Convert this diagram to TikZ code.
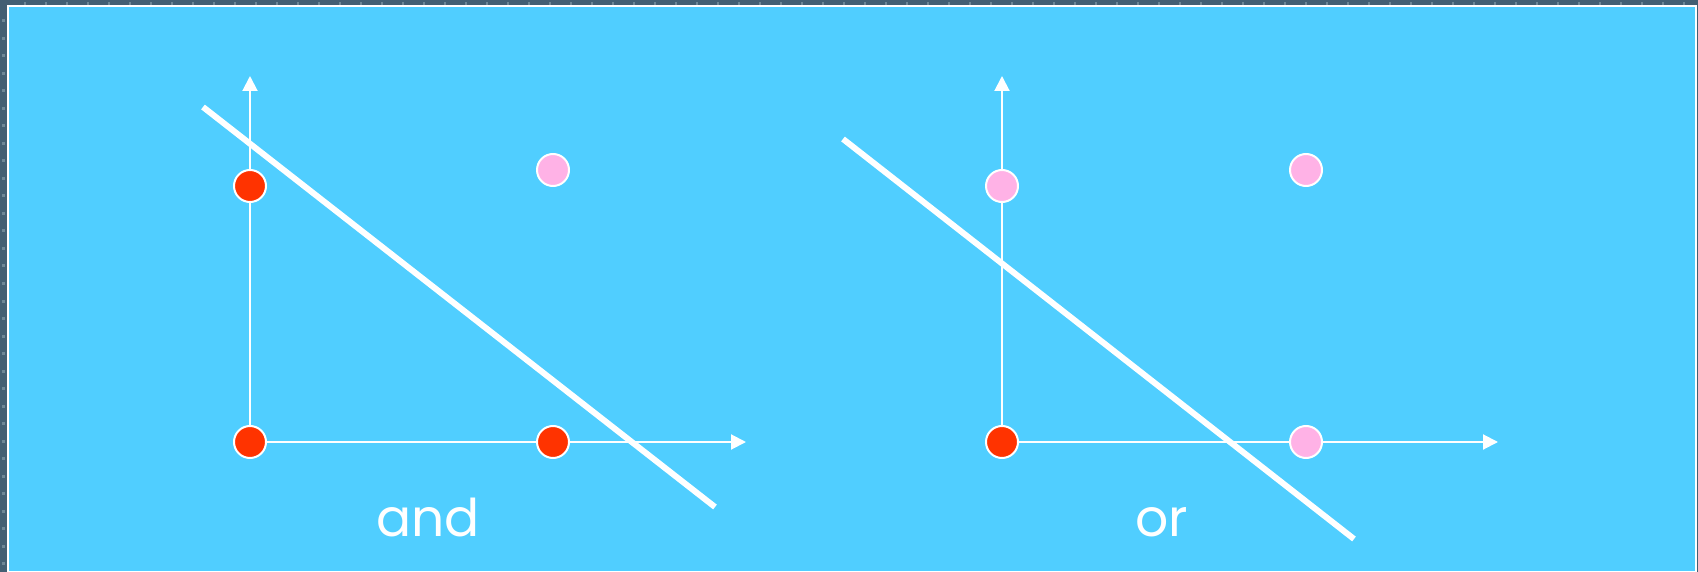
\documentclass[tikz,border=0pt]{standalone}
\usepackage{fontspec}
\setmainfont{Poppins}
\usetikzlibrary{arrows.meta,positioning}
\definecolor{slate}{RGB}{67,95,115}
\definecolor{slatedot}{RGB}{110,135,150}
\definecolor{panelblue}{RGB}{80,206,255}
\definecolor{truered}{RGB}{255,51,0}
\definecolor{falsepink}{RGB}{255,178,230}
\begin{document}
\begin{tikzpicture}[x=1pt, y=-1pt,
    axis/.style={-{Triangle[length=15pt,width=15pt]}, white, line width=2pt},
    dot/.style={circle, draw=white, line width=2pt, minimum size=32pt, inner sep=0pt},
    sep/.style={white, line width=6pt},
    word/.style={anchor=base, text=white, font=\fontsize{52}{60}\selectfont}
]
\useasboundingbox (0,0) rectangle (1698,572);
\fill[slate] (0,0) rectangle (1698,572);
\foreach \i in {1,...,80} {\fill[slatedot] (3+21*\i,2) rectangle (5+21*\i,5);}
\foreach \j in {1,...,32} {\fill[slatedot] (2,2+17.5*\j) rectangle (5,5+17.5*\j);}
\draw[white, line width=2pt, fill=panelblue] (8,6) rectangle (1696,572);
% and
\coordinate (o1) at (250,442);
\coordinate (y1) at (250,76);
\coordinate (x1) at (746,442);
\draw[axis] (o1) -- (y1);
\draw[axis] (o1) -- (x1);
\node[dot, fill=truered] (a00) at (250,442) {};
\node[dot, fill=truered] (a01) at (250,186) {};
\node[dot, fill=truered] (a10) at (553,442) {};
\node[dot, fill=falsepink] (a11) at (553,170) {};
\coordinate (s1a) at (203,107);
\coordinate (s1b) at (715,507);
\draw[sep] (s1a) -- (s1b);
\node[word] (and) at (428,536) {and};
% or
\coordinate (o2) at (1002,442);
\coordinate (y2) at (1002,76);
\coordinate (x2) at (1498,442);
\draw[axis] (o2) -- (y2);
\draw[axis] (o2) -- (x2);
\node[dot, fill=truered] (b00) at (1002,442) {};
\node[dot, fill=falsepink] (b01) at (1002,186) {};
\node[dot, fill=falsepink] (b10) at (1306,442) {};
\node[dot, fill=falsepink] (b11) at (1306,170) {};
\coordinate (s2a) at (843,139);
\coordinate (s2b) at (1354,539);
\draw[sep] (s2a) -- (s2b);
\node[word] (or) at (1162,536) {or};
\end{tikzpicture}
\end{document}
